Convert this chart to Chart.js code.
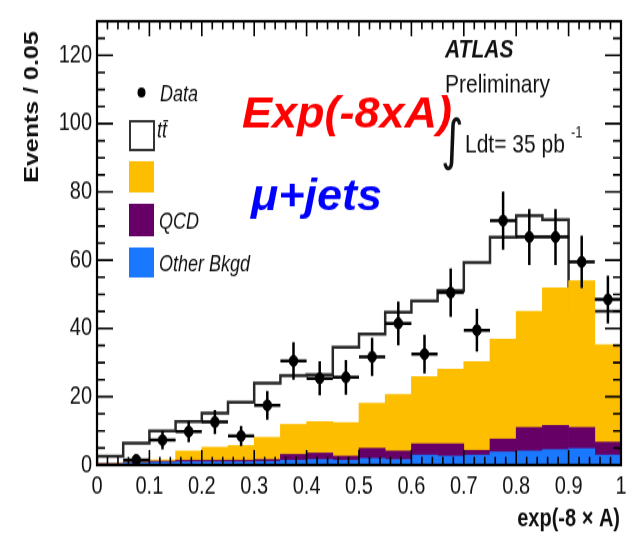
<!DOCTYPE html>
<html>
<head>
<meta charset="utf-8">
<script src="https://cdn.jsdelivr.net/npm/chart.js@4.4.0/dist/chart.umd.min.js"></script>
<style>
  html, body { margin: 0; padding: 0; background: #fff; }
  /* the reference figure is stretched vertically: draw at 428px, show at 535px */
  #chart { display: block; width: 634px; height: 535px; }
</style>
</head>
<body>
<canvas id="chart" width="634" height="428" style="width:634px;height:535px"></canvas>
<script>
// bins of exp(-8 x A), width 0.05
var binEdges = [0, 0.05, 0.1, 0.15, 0.2, 0.25, 0.3, 0.35, 0.4, 0.45, 0.5,
                0.55, 0.6, 0.65, 0.7, 0.75, 0.8, 0.85, 0.9, 0.95, 1];

// stacked MC (events / 0.05)
var otherBkgd = [0.3, 0.6, 0.8, 0.9, 0.9, 0.9, 1.0, 1.4, 1.6, 1.4, 1.9, 1.6, 2.9, 2.6, 2.9, 3.8, 4.1, 4.5, 4.8, 2.9];
var qcd       = [0.1, 0.2, 0.3, 0.5, 0.5, 0.5, 0.6, 1.7, 1.9, 1.2, 3.0, 2.5, 3.3, 3.6, 1.4, 3.8, 6.9, 7.1, 6.2, 3.8];
var wjets     = [0.1, 0.2, 0.4, 2.7, 3.8, 4.3, 6.5, 8.8, 9.2, 9.8, 13.2, 16.6, 19.7, 21.9, 26.0, 29.3, 34.0, 40.3, 43.0, 28.5];
var ttbar     = [0.2, 1.6, 4.9, 5.9, 7.5, 9.5, 10.3, 12.1, 13.5, 14.1, 16.4, 17.7, 18.9, 20.0, 20.8, 22.4, 21.7, 21.2, 17.9, 9.8];

// data with statistical errors
var dataVals = [null, 1.5, 7.3, 9.8, 12.6, 8.5, 17.5, 30.5, 25.4, 25.7, 31.7, 41.5, 32.5, 50.5, 39.5, 71.6, 66.8, 66.8, 59.5, 48.5];
var dataErr  = [0, 1.2, 2.7, 3.1, 3.5, 2.9, 4.2, 5.5, 5.0, 5.1, 5.6, 6.4, 5.7, 7.1, 6.3, 8.5, 8.2, 8.2, 7.7, 7.0];

var xTicks = [0, 0.1, 0.2, 0.3, 0.4, 0.5, 0.6, 0.7, 0.8, 0.9, 1];
var xTickLabels = ['0', '0.1', '0.2', '0.3', '0.4', '0.5', '0.6', '0.7', '0.8', '0.9', '1'];
var yTicks = [0, 20, 40, 60, 80, 100, 120];

var FONT = "'Liberation Sans', Arial, sans-serif";
var SY = 535 / 428; // vertical stretch of the figure

// build the datasets
function bars(vals) {
  return vals.map(function (v, i) {
    return { x: (binEdges[i] + binEdges[i + 1]) / 2, y: v };
  });
}

var outline = [];
var errV = [], errH = [], points = [];
for (var i = 0; i < ttbar.length; i++) {
  var tot = otherBkgd[i] + qcd[i] + wjets[i] + ttbar[i];
  outline.push({ x: binEdges[i], y: tot });
  if (i === ttbar.length - 1) outline.push({ x: binEdges[i + 1], y: tot });

  if (dataVals[i] === null) continue;
  var xc = (binEdges[i] + binEdges[i + 1]) / 2;
  points.push({ x: xc, y: dataVals[i] });
  errV.push({ x: xc, y: dataVals[i] - dataErr[i] }, { x: xc, y: dataVals[i] + dataErr[i] }, { x: xc, y: null });
  errH.push({ x: binEdges[i], y: dataVals[i] }, { x: binEdges[i + 1], y: dataVals[i] }, { x: binEdges[i + 1], y: null });
}

var barCommon = { type: 'bar', borderWidth: 0, barPercentage: 1, categoryPercentage: 1, yAxisID: 'y' };

// frame, inward ticks, legend and labels
var decor = {
  id: 'decor',
  afterDraw: function (chart) {
    var ctx = chart.ctx, a = chart.chartArea, xs = chart.scales.x, ys = chart.scales.y;
    ctx.save();
    ctx.strokeStyle = '#000';
    ctx.lineWidth = 1.6;
    var v, p, len;
    // x ticks, bottom and top
    for (v = 0; v <= 1.0001; v += 0.02) {
      p = xs.getPixelForValue(v);
      len = (Math.abs(v * 10 - Math.round(v * 10)) < 0.001) ? 12 : 6.5;
      ctx.beginPath();
      ctx.moveTo(p, a.bottom); ctx.lineTo(p, a.bottom - len);
      ctx.moveTo(p, a.top); ctx.lineTo(p, a.top + len);
      ctx.stroke();
    }
    // y ticks, left and right
    for (v = 0; v <= 130; v += 5) {
      p = ys.getPixelForValue(v);
      len = (v % 20 === 0) ? 16 : 8;
      ctx.beginPath();
      ctx.moveTo(a.left, p); ctx.lineTo(a.left + len, p);
      ctx.moveTo(a.right, p); ctx.lineTo(a.right - len, p);
      ctx.stroke();
    }
    ctx.lineWidth = 2.2;
    ctx.strokeRect(a.left, a.top, a.right - a.left, a.bottom - a.top);

    // axis titles
    ctx.fillStyle = '#111';
    ctx.font = 'bold 20px ' + FONT;
    ctx.textAlign = 'right';
    ctx.textBaseline = 'alphabetic';
    ctx.fillText('exp(-8 \u00d7 A)', 620, 421);
    ctx.save();
    ctx.translate(38, 25);
    ctx.rotate(-Math.PI / 2);
    ctx.textAlign = 'right';
    ctx.fillText('Events / 0.05', 0, 0);
    ctx.restore();

    // ATLAS label
    ctx.textAlign = 'left';
    ctx.font = 'italic bold 21px ' + FONT;
    ctx.fillText('ATLAS', 445, 45.5);
    ctx.font = '21px ' + FONT;
    ctx.fillText('Preliminary', 445, 74);
    ctx.fillText('Ldt= 35 pb', 465, 121.5);
    ctx.font = '13px ' + FONT;
    ctx.fillText('-1', 571, 110);
    ctx.font = "44px 'DejaVu Sans'";
    ctx.fillText('\u222b', 441, 127);

    // legend
    ctx.fillStyle = '#000';
    ctx.beginPath();
    ctx.arc(141.5, 74, 4, 0, Math.PI * 2);
    ctx.fill();
    ctx.strokeStyle = '#333';
    ctx.lineWidth = 2;
    ctx.strokeRect(130, 97, 24, 23);
    ctx.fillStyle = chart.data.datasets[2].backgroundColor;
    ctx.fillRect(129, 129, 25, 25);
    ctx.fillStyle = chart.data.datasets[1].backgroundColor;
    ctx.fillRect(129, 163, 25, 26);
    ctx.fillStyle = chart.data.datasets[0].backgroundColor;
    ctx.fillRect(129, 198, 25, 24);
    ctx.fillStyle = '#111';
    ctx.font = 'italic 18px ' + FONT;
    ctx.textBaseline = 'middle';
    ctx.fillText('Data', 160, 75.5);
    ctx.fillText('tt\u0304', 157, 105);
    ctx.fillText('QCD', 159, 178);
    ctx.fillText('Other Bkgd', 159, 212);

    // overlay labels, not stretched
    ctx.scale(1, 1 / SY);
    ctx.textBaseline = 'alphabetic';
    ctx.font = 'italic bold 45px ' + FONT;
    ctx.fillStyle = '#ff0000';
    ctx.fillText('Exp(-8xA)', 242, 128);
    ctx.fillStyle = '#0000ff';
    ctx.fillText('\u03bc+jets', 251, 210);
    ctx.restore();
  }
};

var ctx = document.getElementById('chart').getContext('2d');
var chart = new Chart(ctx, {
  type: 'bar',
  data: {
    datasets: [
      Object.assign({ label: 'Other Bkgd', data: bars(otherBkgd), backgroundColor: '#1a78ff', order: 1 }, barCommon),
      Object.assign({ label: 'QCD', data: bars(qcd), backgroundColor: '#660066', order: 2 }, barCommon),
      Object.assign({ label: 'W+jets', data: bars(wjets), backgroundColor: '#fdbe00', order: 3 }, barCommon),
      Object.assign({ label: 'ttbar', data: bars(ttbar), backgroundColor: 'rgba(255,255,255,0)', order: 4 }, barCommon),
      { type: 'line', label: 'ttbar outline', data: outline, yAxisID: 'y2', stepped: 'after',
        borderColor: '#2a2a2a', borderWidth: 2.5, pointRadius: 0, fill: false, order: 10 },
      { type: 'line', label: 'err v', data: errV, yAxisID: 'y2', borderColor: '#000', borderWidth: 2.5,
        pointRadius: 0, spanGaps: false, fill: false, order: 0 },
      { type: 'line', label: 'err h', data: errH, yAxisID: 'y2', borderColor: '#000', borderWidth: 2.5,
        pointRadius: 0, spanGaps: false, fill: false, order: 0 },
      { type: 'scatter', label: 'Data', data: points, yAxisID: 'y2', backgroundColor: '#000', borderColor: '#000',
        pointRadius: 4.3, pointStyle: 'circle', order: 0 }
    ]
  },
  options: {
    responsive: false,
    animation: false,
    layout: { padding: { left: 0, right: 13, top: 8, bottom: 0 } },
    plugins: { legend: { display: false }, tooltip: { enabled: false } },
    scales: {
      x: {
        type: 'linear', min: 0, max: 1, offset: false, stacked: true,
        grid: { display: false, drawTicks: false, offset: false },
        border: { display: false },
        afterBuildTicks: function (s) { s.ticks = xTicks.map(function (v) { return { value: v }; }); },
        afterFit: function (s) { s.height = 56; },
        ticks: {
          padding: 5, maxRotation: 0, autoSkip: false, color: '#111',
          font: { family: FONT, size: 20 },
          callback: function (v, i) { return xTickLabels[i]; }
        }
      },
      y: {
        min: 0, max: 130, stacked: true,
        grid: { display: false, drawTicks: false },
        border: { display: false },
        afterBuildTicks: function (s) { s.ticks = yTicks.map(function (v) { return { value: v }; }); },
        afterFit: function (s) { s.width = 97; },
        ticks: { padding: 5, color: '#111', font: { family: FONT, size: 20 } }
      },
      y2: { min: 0, max: 130, display: false }
    }
  },
  plugins: [decor]
});
</script>
</body>
</html>
